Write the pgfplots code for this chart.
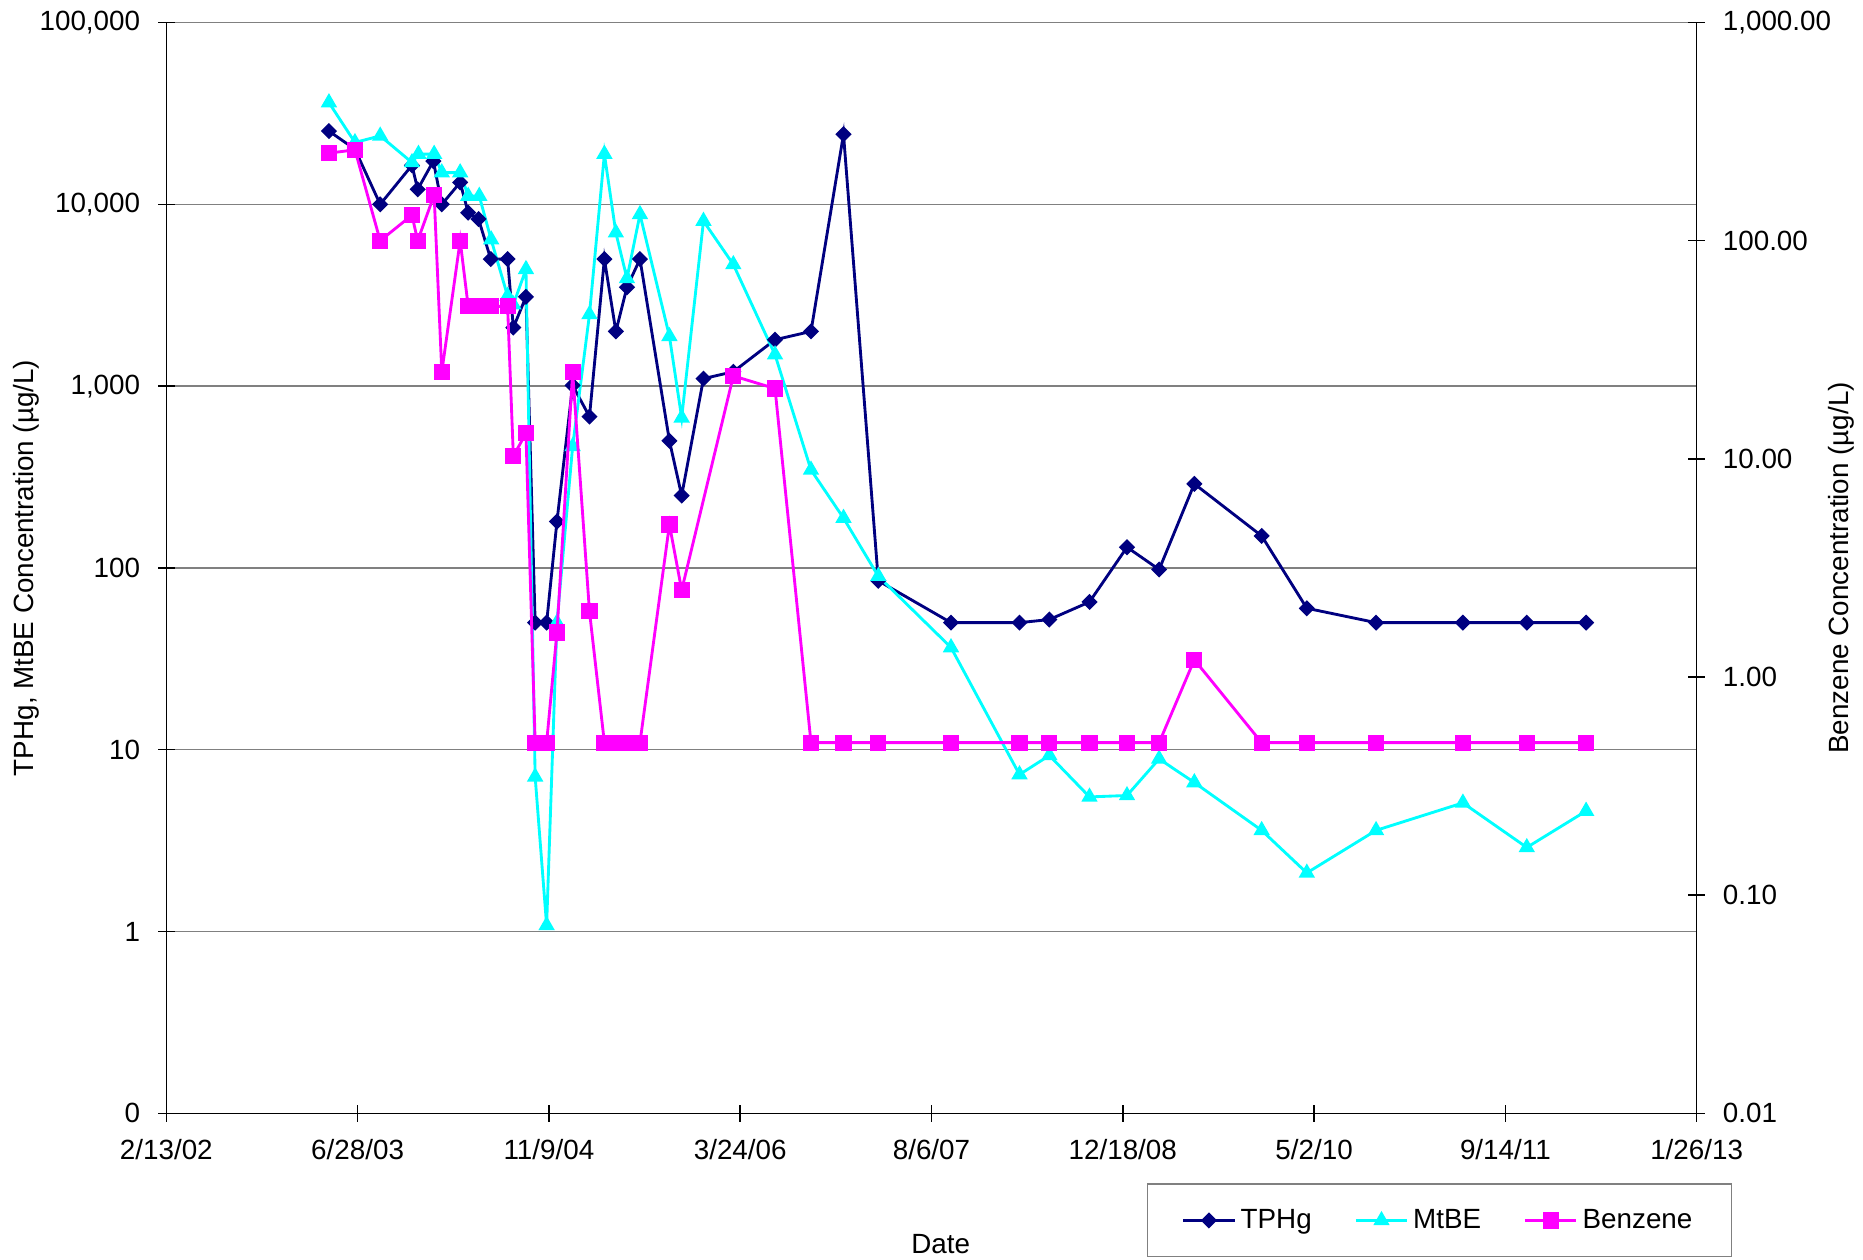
\documentclass[border=0pt]{standalone}
\usepackage{fontspec}
\setmainfont{Liberation Sans}
\usepackage{pgfplots}
\pgfplotsset{compat=1.18}
\usepackage{pgfplotstable}

\definecolor{tphgc}{RGB}{0,0,128}
\definecolor{mtbec}{RGB}{0,255,255}
\definecolor{benzc}{RGB}{255,0,255}
\definecolor{gridc}{RGB}{128,128,128}

% x = days since 2/13/02
\pgfplotstableread{
d v
425 25300
493 20100
559 10000
642 16400
657 12100
698 17300
720 10000
768 13200
789 9000
816 8300
848 5000
892 5000
907 2100
940 3100
964 50
994 50
1021 180
1062 1010
1106 680
1145 5000
1175 2000
1204 3500
1238 5000
1315 500
1347 250
1404 1100
1482 1200
1591 1800
1685 2000
1770 24300
1861 85
2051 50
2230 50
2308 52
2413 65
2511 130
2595 98
2687 290
2863 150
2981 60
3162 50
3389 50
3556 50
3711 50
}\tphgdata

\pgfplotstableread{
d v
425 36300
493 21900
559 23800
642 17000
659 18900
700 18900
720 14950
768 14950
789 11100
818 11100
849 6400
892 3130
907 2810
940 4390
964 7.1
994 1.08
1021 50
1062 466
1106 2480
1145 18900
1175 6980
1204 3910
1238 8810
1315 1880
1347 670
1404 8090
1482 4670
1591 1490
1685 346
1770 188
1861 90
2051 36.5
2230 7.3
2308 9.3
2413 5.5
2511 5.6
2595 8.9
2687 6.6
2863 3.6
2981 2.1
3162 3.6
3389 5.1
3556 2.9
3711 4.6
}\mtbedata

\pgfplotstableread{
d v
425 252
493 261
559 100
642 131
657 100
700 162
720 25
768 100
789 50
816 50
848 50
892 50
907 10.3
940 13.1
964 0.5
994 0.5
1021 1.6
1062 25
1106 2.0
1145 0.5
1175 0.5
1204 0.5
1238 0.5
1315 5.0
1347 2.5
1482 24
1591 21
1685 0.5
1770 0.5
1861 0.5
2051 0.5
2230 0.5
2308 0.5
2413 0.5
2511 0.5
2595 0.5
2687 1.2
2863 0.5
2981 0.5
3162 0.5
3389 0.5
3556 0.5
3711 0.5
}\benzdata

\pgfplotsset{
  base/.style={
    scale only axis, width=644pt, height=459pt,
    xmin=0, xmax=4000,
    /pgf/number format/assume math mode=true,
    tick align=center, major tick length=7pt,
    tick style={black, line width=0.6pt},
    axis line style={black, line width=0.6pt},
    every tick label/.append style={font=\fontsize{11.7}{14}\selectfont},
    yminorticks=false, xminorticks=false,
    legend image code/.code={\draw[mark repeat=2,mark phase=2,##1] plot coordinates {(0pt,0pt) (10.75pt,0pt) (21.5pt,0pt)};},
  },
}
\tikzset{
  tphgstyle/.style={tphgc, line width=1.2pt, mark=square*, mark size=2.1pt, mark options={rotate=45, solid, fill=tphgc, draw=tphgc, line width=0.6pt}},
  mtbestyle/.style={mtbec, line width=1.2pt, mark=triangle*, mark size=3.4pt, mark options={solid, fill=mtbec, draw=mtbec, line width=0.6pt}},
  benzstyle/.style={benzc, line width=1.2pt, mark=square*, mark size=3.1pt, mark options={solid, fill=benzc, draw=benzc, line width=0.6pt}},
}

\begin{document}
\begin{tikzpicture}[font=\fontsize{11.7}{14}\selectfont]
\begin{axis}[base, ymode=log,
  axis x line*=bottom, axis y line*=left,
  ymin=0.1, ymax=100000,
  ytick={0.1,1,10,100,1000,10000,100000},
  yticklabels={0,1,10,100,{1,000},{10,000},{100,000}},
  xtick={0,500,...,4000},
  xticklabels={2/13/02,6/28/03,11/9/04,3/24/06,8/6/07,12/18/08,5/2/10,9/14/11,1/26/13},
  ymajorgrids, major grid style={gridc, line width=0.6pt},
  yticklabel style={xshift=-4pt},
  xticklabel style={yshift=-4pt},
  xlabel={Date}, ylabel={TPHg, MtBE Concentration (µg/L)},
  every axis x label/.style={at={(axis description cs:0.506,0)}, anchor=center, yshift=-55pt},
  every axis y label/.style={at={(axis description cs:-0.0916,0.5)}, anchor=center, rotate=90},
]
\addplot[tphgstyle] table[x=d,y=v] {\tphgdata};
\addplot[mtbestyle] table[x=d,y=v] {\mtbedata};
\coordinate (sw) at (rel axis cs:0,0);
\coordinate (ne) at (rel axis cs:1,1);
\end{axis}
\begin{axis}[base, ymode=log,
  axis x line=none, axis y line*=right,
  ymin=0.01, ymax=1000,
  ytick={0.01,0.1,1,10,100,1000},
  yticklabels={0.01,0.10,1.00,10.00,100.00,{1,000.00}},
  yticklabel style={xshift=4pt},
  ylabel={Benzene Concentration (µg/L)},
  every axis y label/.style={at={(axis description cs:1.0947,0.5)}, anchor=center, rotate=90},
  legend columns=3,
  legend cell align=left,
  legend style={at={(axis description cs:0.6407,-0.0643)}, anchor=north west,
    draw=gridc, line width=0.6pt, inner xsep=14.5pt, inner ysep=8.5pt,
    font=\fontsize{11.7}{14}\selectfont,
    /tikz/every even column/.append style={column sep=16pt}},
]
\addlegendimage{tphgstyle}
\addlegendentry{TPHg}
\addlegendimage{mtbestyle}
\addlegendentry{MtBE}
\addplot[benzstyle] table[x=d,y=v] {\benzdata};
\addlegendentry{Benzene}
\end{axis}
\pgfresetboundingbox
\path[use as bounding box] ([xshift=-70pt,yshift=-61.5pt]sw) rectangle ([xshift=70pt,yshift=9.5pt]ne);
\end{tikzpicture}
\end{document}
